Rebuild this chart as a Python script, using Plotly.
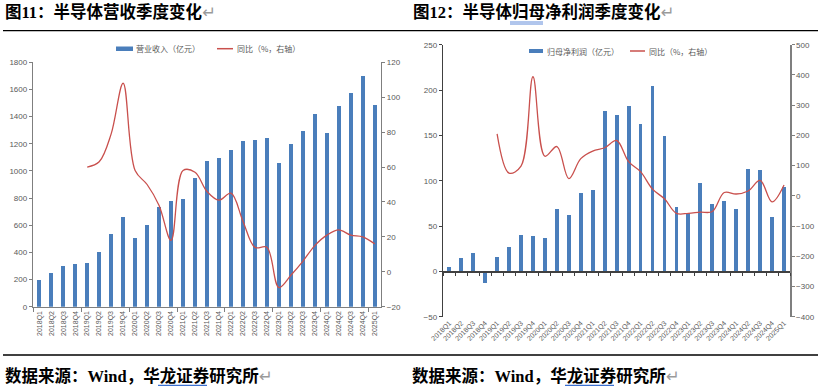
import plotly.graph_objects as go

W, H = 820, 386

quarters = ['2018Q1', '2018Q2', '2018Q3', '2018Q4', '2019Q1', '2019Q2', '2019Q3', '2019Q4',
            '2020Q1', '2020Q2', '2020Q3', '2020Q4', '2021Q1', '2021Q2', '2021Q3', '2021Q4',
            '2022Q1', '2022Q2', '2022Q3', '2022Q4', '2023Q1', '2023Q2', '2023Q3', '2023Q4',
            '2024Q1', '2024Q2', '2024Q3', '2024Q4', '2025Q1']

# 营业收入（亿元）
revenue = [200, 245, 300, 317, 320, 402, 535, 658,
           508, 604, 737, 781, 796, 950, 1073, 1097,
           1152, 1223, 1228, 1240, 1056, 1196, 1296, 1421,
           1281, 1478, 1574, 1699, 1485]
# 营收同比（%，右轴）
revenue_yoy = [None, None, None, None, 60, 63, 79, 108,
               58, 50, 38, 18, 58, 57, 46, 41,
               45, 29, 14, 14, -9, -2, 6, 15,
               21, 24, 21, 20, 16]

# 归母净利润（亿元）
profit = [5.2, 15, 20.5, -12.5, 16, 26.5, 40, 39,
          36.5, 68.5, 62, 86, 90, 177, 173, 182,
          162.5, 205, 149, 70.5, 64.5, 97, 74.5, 77.5,
          69, 113, 112, 60.5, 93.5]
# 归母净利润同比（%，右轴）
profit_yoy = [None, None, None, None, 205, 75, 98, 394,
              131, 163, 57, 123, 148, 159, 183, 113,
              80, 22, -10, -58, -58, -54, -52, 11,
              6, 16, 51, -20, 36]

left_range, left2_range = [0, 1800], [-20, 120]
right_range, right2_range = [-50, 250], [-400, 500]

idx = list(range(len(quarters)))
xrange_ = [-0.5, len(quarters) - 0.5]


def fx(px):
    return px / W


def fy(py):
    return 1 - py / H


BLUE = '#4a7ebb'
RED = '#c9504d'
AX = '#7f7f7f'
TXT = '#595959'
TICKFONT = dict(family='Liberation Sans, Arial, sans-serif', size=8, color=TXT)
XFONT = dict(family='Liberation Sans, Arial, sans-serif', size=7, color=TXT)
CJK = 'Liberation Serif, Noto Sans CJK SC, sans-serif'
LEGFONT = dict(family='Noto Sans CJK SC, sans-serif', size=8, color=TXT)

L_dom_x = [fx(33.3), fx(380.7)]
L_dom_y = [fy(306.7), fy(62.3)]
R_dom_x = [fx(443.3), fx(790)]
R_dom_y = [fy(316.7), fy(44.7)]
zero_pos = R_dom_y[0] + (R_dom_y[1] - R_dom_y[0]) * (0 - right_range[0]) / (right_range[1] - right_range[0])

fig = go.Figure()
fig.add_trace(go.Bar(x=idx, y=revenue, width=0.36, name='营业收入（亿元）',
                     marker=dict(color=BLUE, line=dict(width=0)),
                     xaxis='x', yaxis='y', showlegend=False))
fig.add_trace(go.Scatter(x=idx, y=revenue_yoy, mode='lines', name='同比（%，右轴）',
                         line=dict(color=RED, width=1.3, shape='spline', smoothing=1.0),
                         xaxis='x', yaxis='y2', showlegend=False))
fig.add_trace(go.Bar(x=idx, y=profit, width=0.32, name='归母净利润（亿元）',
                     marker=dict(color=BLUE, line=dict(width=0)),
                     xaxis='x3', yaxis='y3', showlegend=False))
fig.add_trace(go.Scatter(x=idx, y=profit_yoy, mode='lines', name='同比（%，右轴）',
                         line=dict(color=RED, width=1.3, shape='spline', smoothing=1.0),
                         xaxis='x3', yaxis='y4', showlegend=False))
# helper trace so the zero-line axis of the right chart is drawn
fig.add_trace(go.Scatter(x=[idx[0]], y=[0], mode='markers', marker=dict(opacity=0),
                         xaxis='x4', yaxis='y3', hoverinfo='skip', showlegend=False))

common_y = dict(showline=True, linecolor=AX, linewidth=1.5, ticks='outside', ticklen=3,
                tickcolor=AX, showgrid=False, zeroline=False, tickfont=TICKFONT, automargin=False)

fig.update_layout(
    width=W, height=H, autosize=False,
    margin=dict(l=0, r=0, t=0, b=0, autoexpand=False),
    paper_bgcolor='white', plot_bgcolor='rgba(0,0,0,0)',
    bargap=0, showlegend=False,
    xaxis=dict(domain=L_dom_x, anchor='y', range=xrange_, tickmode='array', tickvals=idx,
               ticktext=quarters, tickangle=-90, ticks='', showline=True, linecolor=AX,
               linewidth=1.5, tickfont=XFONT, showgrid=False, zeroline=False, automargin=False,
               minor=dict(tickmode='linear', tick0=-0.5, dtick=4, ticks='outside', ticklen=4,
                          tickcolor=AX, tickwidth=1)),
    yaxis=dict(domain=L_dom_y, anchor='x', range=left_range, dtick=200, **common_y),
    yaxis2=dict(overlaying='y', side='right', anchor='x', range=left2_range, dtick=20, **common_y),
    xaxis3=dict(domain=R_dom_x, anchor='y3', range=xrange_, tickmode='array', tickvals=idx,
                ticktext=quarters, tickangle=-45, ticks='', showline=False, tickfont=XFONT,
                showgrid=False, zeroline=False, automargin=False),
    xaxis4=dict(overlaying='x3', anchor='free', position=zero_pos, range=xrange_,
                showline=True, linecolor='#404040', linewidth=1.2, showticklabels=False,
                tickmode='array', tickvals=[], ticks='', showgrid=False, zeroline=False,
                automargin=False,
                minor=dict(tickmode='linear', tick0=-0.5, dtick=1, ticks='outside', ticklen=3,
                           tickcolor='#404040', tickwidth=1)),
    yaxis3=dict(domain=R_dom_y, anchor='x3', range=right_range, dtick=50,
                **{**common_y, 'linecolor': '#404040', 'tickcolor': '#404040'}),
    yaxis4=dict(overlaying='y3', side='right', anchor='x3', range=right2_range, dtick=100, **common_y),
)

UL = '#3a6fd0'
shapes = [
    # top and bottom rules
    dict(type='line', xref='paper', yref='paper', x0=fx(3), x1=fx(818), y0=fy(30.7), y1=fy(30.7),
         line=dict(color='black', width=1.3)),
    dict(type='line', xref='paper', yref='paper', x0=fx(3), x1=fx(818), y0=fy(355), y1=fy(355),
         line=dict(color='black', width=1.3)),
    # legend symbols, left chart
    dict(type='rect', xref='paper', yref='paper', x0=fx(116), x1=fx(133), y0=fy(51), y1=fy(46.5),
         fillcolor=BLUE, line=dict(width=0)),
    dict(type='line', xref='paper', yref='paper', x0=fx(217), x1=fx(233), y0=fy(48.7), y1=fy(48.7),
         line=dict(color=RED, width=1.5)),
    # legend symbols, right chart
    dict(type='rect', xref='paper', yref='paper', x0=fx(529), x1=fx(543), y0=fy(53), y1=fy(49),
         fillcolor=BLUE, line=dict(width=0)),
    dict(type='line', xref='paper', yref='paper', x0=fx(630), x1=fx(645), y0=fy(51), y1=fy(51),
         line=dict(color=RED, width=1.5)),
    # underlines in the source notes and title
    dict(type='line', xref='paper', yref='paper', x0=fx(158), x1=fx(207), y0=fy(385.3), y1=fy(385.3),
         line=dict(color=UL, width=1.2)),
    dict(type='line', xref='paper', yref='paper', x0=fx(565), x1=fx(614), y0=fy(385.3), y1=fy(385.3),
         line=dict(color=UL, width=1.2)),
    dict(type='line', xref='paper', yref='paper', x0=fx(510), x1=fx(543), y0=fy(22), y1=fy(22),
         line=dict(color=UL, width=0.8)),
    dict(type='line', xref='paper', yref='paper', x0=fx(510), x1=fx(543), y0=fy(24), y1=fy(24),
         line=dict(color=UL, width=0.8)),
]

PM = "<span style='color:#9a9a9a;font-weight:normal;font-family:DejaVu Sans'>↵</span>"
BIG = dict(family=CJK, size=16.5, color='black')
annotations = [
    dict(text='<b>图11：半导体营收季度变化</b>' + PM, x=fx(3), y=fy(12), xanchor='left', yanchor='middle', font=BIG),
    dict(text='<b>图12：半导体归母净利润季度变化</b>' + PM, x=fx(411), y=fy(12), xanchor='left', yanchor='middle', font=BIG),
    dict(text='<b>数据来源：Wind，华龙证券研究所</b>' + PM, x=fx(3), y=fy(375.5), xanchor='left', yanchor='middle', font=BIG),
    dict(text='<b>数据来源：Wind，华龙证券研究所</b>' + PM, x=fx(410), y=fy(375.5), xanchor='left', yanchor='middle', font=BIG),
    dict(text='营业收入（亿元）', x=fx(134), y=fy(48.7), xanchor='left', yanchor='middle', font=LEGFONT),
    dict(text='同比（%，右轴）', x=fx(235), y=fy(48.7), xanchor='left', yanchor='middle', font=LEGFONT),
    dict(text='归母净利润（亿元）', x=fx(545), y=fy(51), xanchor='left', yanchor='middle', font=LEGFONT),
    dict(text='同比（%，右轴）', x=fx(647), y=fy(51), xanchor='left', yanchor='middle', font=LEGFONT),
]
for a in annotations:
    a.update(xref='paper', yref='paper', showarrow=False)

fig.update_layout(shapes=shapes, annotations=annotations)

fig.write_html('out.html', config={'displayModeBar': False, 'staticPlot': True},
               post_script="document.body.style.margin='0';document.body.style.overflow='hidden';")
